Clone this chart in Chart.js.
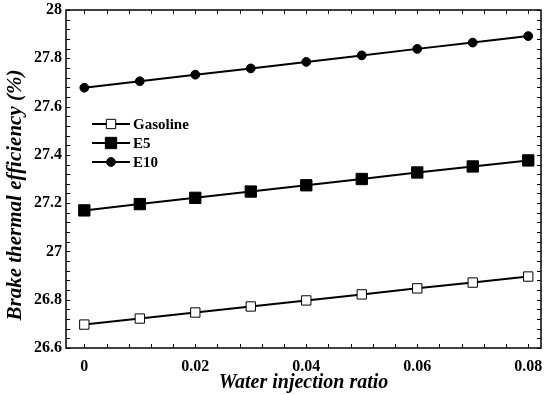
<!DOCTYPE html>
<html>
<head>
<meta charset="utf-8">
<script src="https://cdn.jsdelivr.net/npm/chart.js@4/dist/chart.umd.min.js"></script>
<style>
  html, body { margin: 0; padding: 0; background: #fff; }
  #wrap { width: 550px; height: 395px; }
</style>
</head>
<body>
<div id="wrap"><canvas id="btChart" width="550" height="395"></canvas></div>
<script>
// data
const waterRatio = [0, 0.01, 0.02, 0.03, 0.04, 0.05, 0.06, 0.07, 0.08];
const gasoline = [26.697, 26.722, 26.747, 26.772, 26.797, 26.822, 26.847, 26.871, 26.896];
const e5 = [27.170, 27.196, 27.222, 27.248, 27.274, 27.300, 27.327, 27.352, 27.377];
const e10 = [27.678, 27.705, 27.732, 27.758, 27.785, 27.812, 27.839, 27.865, 27.892];

const xTicks = [0, 0.02, 0.04, 0.06, 0.08];
const yTicks = [26.6, 26.8, 27, 27.2, 27.4, 27.6, 27.8, 28];
const xMinorStep = 0.004;
const yMinorStep = 0.04;

const seriesNames = ['Gasoline', 'E5', 'E10'];
const yTitle = 'Brake thermal efficiency (%)';

const serif = "'Liberation Serif', 'Times New Roman', serif";

function toPoints(ys) {
  return waterRatio.map((x, i) => ({ x: x, y: ys[i] }));
}

// frame + inward ticks on all four sides, plus the y title
const frameTicks = {
  id: 'frameTicks',
  afterDraw(chart) {
    const ctx = chart.ctx;
    const a = chart.chartArea;
    const xs = chart.scales.x;
    const ys = chart.scales.y;
    ctx.save();
    ctx.strokeStyle = '#000';
    ctx.lineWidth = 1.5;
    ctx.strokeRect(a.left, a.top, a.right - a.left, a.bottom - a.top);
    ctx.lineWidth = 1;
    const len = 4;
    ctx.beginPath();
    for (let v = 0; v <= 0.0801; v += xMinorStep) {
      const px = Math.round(xs.getPixelForValue(v)) + 0.5;
      ctx.moveTo(px, a.bottom); ctx.lineTo(px, a.bottom - len);
      ctx.moveTo(px, a.top); ctx.lineTo(px, a.top + len);
    }
    for (let v = 26.6; v <= 28.001; v += yMinorStep) {
      const py = Math.round(ys.getPixelForValue(v)) + 0.5;
      ctx.moveTo(a.left, py); ctx.lineTo(a.left + len, py);
      ctx.moveTo(a.right, py); ctx.lineTo(a.right - len, py);
    }
    ctx.stroke();

    // y axis title, sits a little below the axis centre in the original
    ctx.translate(16, 195);
    ctx.rotate(-Math.PI / 2);
    ctx.fillStyle = '#000';
    ctx.font = "italic bold 21px " + serif;
    ctx.textAlign = 'center';
    ctx.textBaseline = 'middle';
    ctx.fillText(yTitle, 0, 0);
    ctx.restore();
  }
};

// legend: line - marker - line, then label
const lineLegend = {
  id: 'lineLegend',
  afterDraw(chart) {
    const ctx = chart.ctx;
    const x0 = 92, x1 = 130, xm = 111, xt = 133;
    const rows = [124, 143, 162];
    ctx.save();
    chart.data.datasets.forEach((ds, i) => {
      const y = rows[i];
      ctx.strokeStyle = '#000';
      ctx.lineWidth = 2;
      ctx.beginPath();
      ctx.moveTo(x0, y); ctx.lineTo(x1, y);
      ctx.stroke();
      ctx.lineWidth = ds.pointBorderWidth;
      ctx.fillStyle = ds.pointBackgroundColor;
      ctx.strokeStyle = ds.pointBorderColor;
      Chart.helpers.drawPoint(ctx, {
        pointStyle: ds.pointStyle,
        radius: ds.pointRadius,
        rotation: 0,
        borderWidth: ds.pointBorderWidth
      }, xm, y);
      ctx.fillStyle = '#000';
      ctx.font = "bold 15px " + serif;
      ctx.textBaseline = 'middle';
      ctx.textAlign = 'left';
      ctx.fillText(ds.label, xt, y + 1);
    });
    ctx.restore();
  }
};

const ctx = document.getElementById('btChart').getContext('2d');
new Chart(ctx, {
  type: 'line',
  data: {
    datasets: [{
      label: seriesNames[0],
      data: toPoints(gasoline),
      borderColor: '#000',
      borderWidth: 2,
      pointStyle: 'rect',
      pointRadius: 6.6,
      pointBackgroundColor: '#fff',
      pointBorderColor: '#000',
      pointBorderWidth: 1
    }, {
      label: seriesNames[1],
      data: toPoints(e5),
      borderColor: '#000',
      borderWidth: 2,
      pointStyle: 'rect',
      pointRadius: 8,
      pointBackgroundColor: '#000',
      pointBorderColor: '#000',
      pointBorderWidth: 1
    }, {
      label: seriesNames[2],
      data: toPoints(e10),
      borderColor: '#000',
      borderWidth: 2,
      pointStyle: 'circle',
      pointRadius: 4.4,
      pointBackgroundColor: '#000',
      pointBorderColor: '#000',
      pointBorderWidth: 1
    }]
  },
  options: {
    responsive: false,
    animation: false,
    layout: { padding: { top: 10, right: 6, left: 0, bottom: 0 } },
    plugins: {
      legend: { display: false },
      tooltip: { enabled: false }
    },
    scales: {
      x: {
        type: 'linear',
        min: -0.0033,
        max: 0.0823,
        afterBuildTicks: (scale) => { scale.ticks = xTicks.map(v => ({ value: v })); },
        afterFit: (scale) => {
          scale.height = 47;
          scale.paddingLeft = 0;
          scale.paddingRight = 0;
        },
        grid: { display: false, drawTicks: false },
        border: { display: false },
        ticks: {
          color: '#000',
          padding: 9,
          maxRotation: 0,
          font: { family: serif, size: 16, weight: 'bold' },
          callback: (v) => String(+v.toFixed(2))
        },
        title: {
          display: true,
          text: 'Water injection ratio',
          color: '#000',
          padding: { top: 1, bottom: 0 },
          font: { family: serif, size: 20, weight: 'bold', style: 'italic' }
        }
      },
      y: {
        type: 'linear',
        min: 26.6,
        max: 28,
        afterBuildTicks: (scale) => { scale.ticks = yTicks.map(v => ({ value: v })); },
        afterFit: (scale) => {
          scale.width = 66;
          scale.paddingTop = 0;
          scale.paddingBottom = 0;
        },
        grid: { display: false, drawTicks: false },
        border: { display: false },
        ticks: {
          color: '#000',
          padding: 4,
          font: { family: serif, size: 16, weight: 'bold' },
          callback: (v) => String(+v.toFixed(1))
        }
      }
    }
  },
  plugins: [frameTicks, lineLegend]
});
</script>
</body>
</html>
